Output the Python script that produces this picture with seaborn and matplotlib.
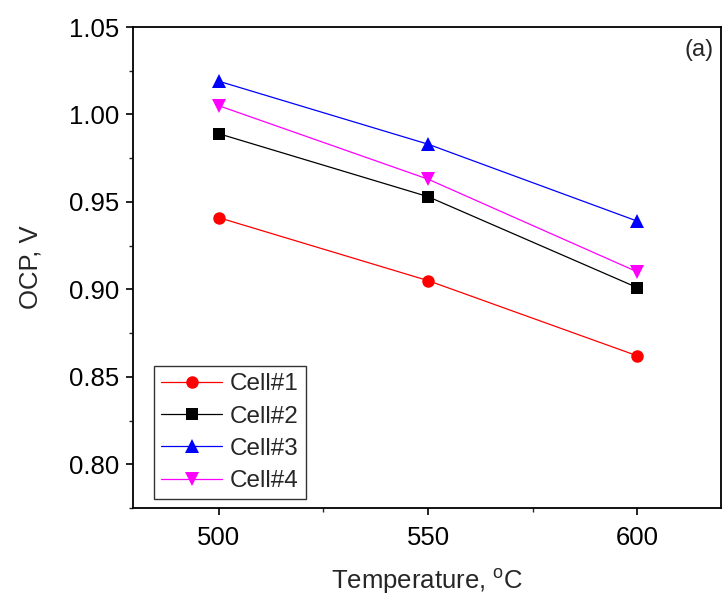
import matplotlib
matplotlib.use("Agg")
import matplotlib.pyplot as plt
from matplotlib.ticker import MultipleLocator
import seaborn as sns
import pandas as pd

temperature = [500, 550, 600]
cell1 = [0.941, 0.905, 0.862]
cell2 = [0.989, 0.953, 0.901]
cell3 = [1.019, 0.983, 0.939]
cell4 = [1.005, 0.963, 0.910]
cells = ["Cell#1", "Cell#2", "Cell#3", "Cell#4"]

rows = []
for name, vals in zip(cells, [cell1, cell2, cell3, cell4]):
    for t, v in zip(temperature, vals):
        rows.append({"Temperature": t, "OCP": v, "Cell": name})
df = pd.DataFrame(rows)

sns.set_theme(style="ticks")
plt.rcParams["font.family"] = ["Liberation Sans", "DejaVu Sans"]
plt.rcParams["mathtext.fontset"] = "custom"
plt.rcParams["mathtext.rm"] = "Liberation Sans"

colors = {"Cell#1": "#ff0000", "Cell#2": "#000000", "Cell#3": "#0000ff", "Cell#4": "#ff00ff"}
markers = {"Cell#1": "o", "Cell#2": "s", "Cell#3": "^", "Cell#4": "v"}
sizes = {"Cell#1": 9, "Cell#2": 8, "Cell#3": 10, "Cell#4": 10}

fig = plt.figure(figsize=(7.23, 5.95), dpi=100)
ax = fig.add_axes([133 / 723, 1 - 508 / 595, (721 - 133) / 723, (508 - 27) / 595])

for name in cells:
    sub = df[df["Cell"] == name]
    sns.lineplot(data=sub, x="Temperature", y="OCP", ax=ax, color=colors[name],
                 marker=markers[name], markersize=sizes[name], markeredgewidth=0,
                 linewidth=0.9, label=name, sort=False)

ax.set_xlim(479.5, 620)
ax.set_ylim(0.775, 1.05)
ax.xaxis.set_major_locator(MultipleLocator(50))
ax.xaxis.set_minor_locator(MultipleLocator(25))
ax.yaxis.set_minor_locator(MultipleLocator(0.025))
ax.set_yticks([0.80, 0.85, 0.90, 0.95, 1.00, 1.05])
ax.set_yticklabels(["0.80", "0.85", "0.90", "0.95", "1.00", "1.05"])

ax.tick_params(axis="both", which="major", direction="out", length=5, width=1.2,
               labelsize=18.5, colors="black", pad=5)
ax.tick_params(axis="x", which="major", pad=8)
ax.tick_params(axis="both", which="minor", direction="out", length=3, width=1.0)
ax.tick_params(top=False, right=False, which="both")
for side in ["left", "bottom", "top", "right"]:
    ax.spines[side].set_visible(True)
    ax.spines[side].set_linewidth(1.3)
    ax.spines[side].set_color("black")

ax.set_xlabel("Temperature, $^{\\rm o}$C", fontsize=18.5, labelpad=12)
ax.set_ylabel("OCP, V", fontsize=18.5, labelpad=19)

ax.text(0.988, 0.975, "(a)", transform=ax.transAxes, ha="right", va="top", fontsize=17)

leg = ax.legend(loc="lower left", bbox_to_anchor=(0.036, 0.018), fontsize=17.5,
                frameon=True, fancybox=False, edgecolor="black", handlelength=2.5,
                handletextpad=0.3, borderpad=0.3, labelspacing=0.42, borderaxespad=0)
leg.get_frame().set_linewidth(1.0)

fig.savefig("out.png", dpi=100)
